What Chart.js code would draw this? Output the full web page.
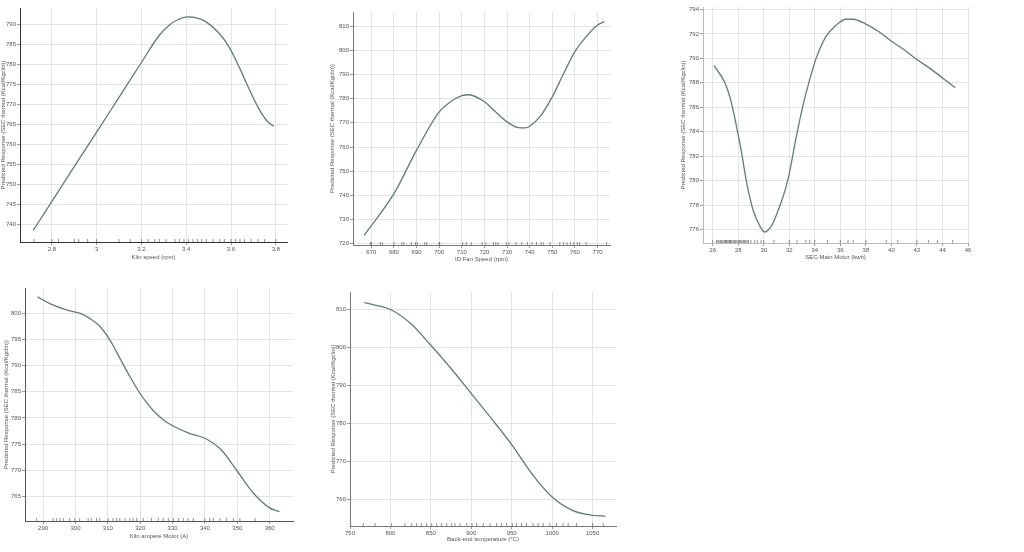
<!DOCTYPE html>
<html>
<head>
<meta charset="utf-8">
<script src="https://cdn.jsdelivr.net/npm/chart.js@4.4.1/dist/chart.umd.min.js"></script>
<style>
  body { margin: 0; background: #fff; width: 1024px; height: 552px; overflow: hidden; position: relative; }
  canvas { position: absolute; }
</style>
</head>
<body>
<canvas id="c1"></canvas>
<canvas id="c2"></canvas>
<canvas id="c3"></canvas>
<canvas id="c4"></canvas>
<canvas id="c5"></canvas>
<script>
const yTitle = 'Predicted Response (SEC thermal (Kcal/Kgclin))';

// Kiln speed
const kilnSpeedX = [2.717, 2.8, 2.9, 3.0, 3.1, 3.2, 3.28, 3.324, 3.36, 3.406, 3.45, 3.487, 3.547, 3.591, 3.636, 3.68, 3.724, 3.761, 3.791];
const kilnSpeedY = [738.5, 745.7, 754.4, 763.0, 771.7, 780.4, 787.2, 789.7, 791.0, 791.8, 791.5, 790.6, 787.7, 784.3, 779.3, 773.9, 768.9, 765.8, 764.5];
const kilnSpeedRug = [2.72, 2.8, 2.83, 2.9, 2.92, 2.96, 3.0, 3.1, 3.15, 3.2, 3.23, 3.26, 3.28, 3.31, 3.35, 3.37, 3.39, 3.41, 3.43, 3.45, 3.47, 3.49, 3.52, 3.55, 3.57, 3.6, 3.62, 3.64, 3.66, 3.69, 3.72, 3.75, 3.8];
const kilnSpeedXTicks = [2.8, 3, 3.2, 3.4, 3.6, 3.8];
const kilnSpeedYTicks = [740, 745, 750, 755, 760, 765, 770, 775, 780, 785, 790];

// ID fan speed
const fanX = [666.8, 680, 690, 700, 705, 710, 713, 720, 725, 730, 735, 738, 740, 745, 750, 755, 760, 765, 770, 773];
const fanY = [723.5, 740.7, 758.7, 774.5, 778.7, 781.2, 781.6, 778.7, 774.5, 770.4, 768.0, 767.9, 768.6, 773.1, 780.7, 790.4, 799.4, 805.6, 810.4, 811.8];
const fanRug = [669.6, 670, 674, 674.9, 680, 683.5, 684.4, 687.7, 689.5, 690.3, 693.6, 694.5, 700.2, 700, 710.4, 712, 714.2, 719, 720.6, 724, 725, 726, 729.7, 730.8, 734, 736.4, 739, 741, 743, 745, 746, 749, 753.3, 755, 756.5, 758, 759.5, 761, 762, 765, 774];
const fanXTicks = [670, 680, 690, 700, 710, 720, 730, 740, 750, 760, 770];
const fanYTicks = [720, 730, 740, 750, 760, 770, 780, 790, 800, 810];

// SEC-Main Motor
const motorX = [26.1, 26.96, 27.48, 27.87, 28.26, 28.65, 29.16, 29.69, 30.08, 30.6, 31.25, 31.9, 32.55, 33.06, 33.58, 34.1, 34.88, 35.66, 36.44, 37, 38, 39, 40, 41, 42, 43, 44, 45];
const motorY = [789.4, 788.0, 786.3, 784.4, 782.3, 779.9, 777.6, 776.3, 775.8, 776.3, 777.9, 780.1, 783.6, 786.1, 788.2, 790.0, 791.8, 792.7, 793.2, 793.2, 792.8, 792.2, 791.4, 790.7, 789.9, 789.2, 788.4, 787.6];
const motorRug = [26.0, 26.3, 26.4, 26.5, 26.6, 26.7, 26.8, 26.9, 27.0, 27.05, 27.1, 27.2, 27.3, 27.35, 27.4, 27.5, 27.6, 27.7, 27.8, 27.9, 28.0, 28.1, 28.2, 28.3, 28.4, 28.5, 28.6, 28.7, 28.8, 29.0, 29.3, 29.5, 29.8, 30.0, 30.8, 32.0, 32.6, 33.3, 33.6, 34.0, 35.0, 36.0, 36.6, 37.0, 38.0, 39.6, 40.5, 42.0, 42.9, 43.6, 44.8];
const motorXTicks = [26, 28, 30, 32, 34, 36, 38, 40, 42, 44, 46];
const motorYTicks = [776, 778, 780, 782, 784, 786, 788, 790, 792, 794];

// Kiln ampere motor
const ampX = [288.3, 292.1, 297.2, 301.3, 304.4, 307.5, 310.6, 313.7, 316.8, 319.9, 322, 324, 327, 330, 335, 340, 345, 350, 355, 360, 363];
const ampY = [803.1, 801.8, 800.6, 800.0, 799.0, 797.5, 794.9, 791.4, 787.9, 784.7, 782.9, 781.4, 779.7, 778.5, 777.1, 776.1, 773.9, 769.8, 765.6, 762.8, 762.1];
const ampRug = [288, 293.1, 294.1, 295.2, 296.2, 298.2, 299.8, 301.3, 303.9, 304.9, 306.5, 307.5, 310.1, 311.6, 312.7, 313.7, 315.3, 316.8, 317.8, 318.9, 320.9, 323.5, 325.6, 327.1, 328.7, 330.2, 331.8, 333.3, 334.8, 336.4, 340, 341.5, 342.6, 344.6, 346.7, 348.8, 350.8, 355.5];
const ampXTicks = [290, 300, 310, 320, 330, 340, 350, 360];
const ampYTicks = [765, 770, 775, 780, 785, 790, 795, 800];

// Back-end temperature
const tempX = [767.7, 800, 825, 850, 875, 900, 925, 950, 975, 1000, 1025, 1050, 1066];
const tempY = [811.8, 810.0, 806.3, 800.6, 794.5, 787.9, 781.3, 774.5, 766.8, 760.7, 757.2, 755.9, 755.7];
const tempRug = [766.5, 780.9, 801.5, 818, 826.3, 832.5, 838.6, 844.8, 851, 857.2, 863.4, 869.6, 875.7, 879.9, 886, 894.3, 900.9, 906.6, 914.9, 923.1, 931.4, 937.5, 943.7, 950.7, 955.9, 962.1, 968.3, 976.5, 982.7, 988.9, 997.1, 1005.4, 1013.6, 1019.8, 1030.1, 1050.1, 1063.3];
const tempXTicks = [750, 800, 850, 900, 950, 1000, 1050];
const tempYTicks = [760, 770, 780, 790, 800, 810];

const PAD = 6;
const tickFont = { family: 'Liberation Sans, Arial, sans-serif', size: 6 };

function makeChart(id, box, xs, ys, rug, xTicks, yTicks, xr, yr, xLabel) {
  const canvas = document.getElementById(id);
  canvas.width = box.r - box.l + box.yw + PAD;
  canvas.height = box.b - box.t + PAD + box.xh;
  canvas.style.left = (box.l - box.yw) + 'px';
  canvas.style.top = (box.t - PAD) + 'px';

  const axis = (ticks, range, title, isX) => ({
    type: 'linear',
    min: range[0],
    max: range[1],
    afterBuildTicks: s => { s.ticks = ticks.map(v => ({ value: v })); },
    afterFit: s => { if (isX) s.height = box.xh; else s.width = box.yw; },
    ticks: { autoSkip: false, maxRotation: 0, color: '#555', font: tickFont, padding: 1, callback: v => String(v) },
    grid: { color: '#e4e4e4', lineWidth: 1, tickLength: 3, tickColor: '#999' },
    border: { color: box.border || '#777', width: 1 },
    title: { display: true, text: title, color: '#555', font: tickFont, padding: 0 }
  });

  return new Chart(canvas, {
    type: 'scatter',
    data: {
      datasets: [
        {
          data: xs.map((x, i) => ({ x: x, y: ys[i] })),
          showLine: true,
          borderColor: 'rgb(96,124,124)',
          borderWidth: 1.3,
          pointRadius: 0,
          cubicInterpolationMode: 'monotone'
        },
        {
          data: rug.map(x => ({ x: x, y: yr[0] })),
          pointStyle: 'line',
          rotation: 90,
          pointRadius: 3,
          borderColor: 'rgba(60,60,60,0.7)',
          borderWidth: 0.8
        }
      ]
    },
    options: {
      responsive: false,
      animation: false,
      layout: { padding: { top: PAD, right: PAD, left: 0, bottom: 0 } },
      plugins: { legend: { display: false }, tooltip: { enabled: false } },
      scales: {
        x: axis(xTicks, xr, xLabel, true),
        y: axis(yTicks, yr, yTitle, false)
      }
    }
  });
}

makeChart('c1', { l: 20, r: 287, t: 8, b: 242, yw: 20, xh: 19, border: '#333' },
  kilnSpeedX, kilnSpeedY, kilnSpeedRug, kilnSpeedXTicks, kilnSpeedYTicks, [2.658, 3.85], [735.6, 794], 'Kiln speed (rpm)');
makeChart('c2', { l: 353, r: 610, t: 12, b: 245, yw: 24, xh: 18 },
  fanX, fanY, fanRug, fanXTicks, fanYTicks, [661.9, 775.5], [719.5, 815.8], 'ID Fan Speed (rpm)');
makeChart('c3', { l: 703, r: 968, t: 7, b: 243, yw: 23, xh: 18, border: '#bbb' },
  motorX, motorY, motorRug, motorXTicks, motorYTicks, [25.24, 46], [774.9, 794.2], 'SEC-Main Motor (kwh)');
makeChart('c4', { l: 25, r: 293, t: 288, b: 521, yw: 22, xh: 19, border: '#555' },
  ampX, ampY, ampRug, ampXTicks, ampYTicks, [284.4, 367.2], [760.3, 804.8], 'Kiln ampere Motor (A)');
makeChart('c5', { l: 350, r: 616, t: 292, b: 526, yw: 20, xh: 17 },
  tempX, tempY, tempRug, tempXTicks, tempYTicks, [750, 1079], [753.1, 814.6], 'Back-end temperature (°C)');
</script>
</body>
</html>
